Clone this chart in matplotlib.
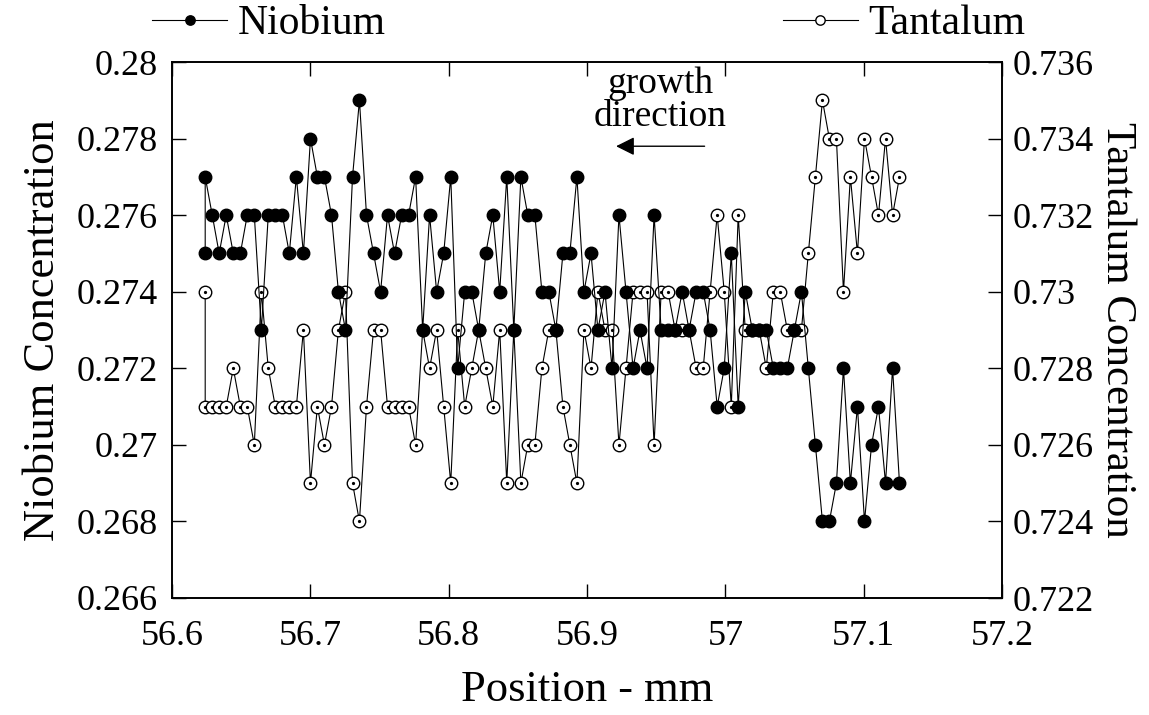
import matplotlib
matplotlib.use("Agg")
import matplotlib.pyplot as plt
from matplotlib.ticker import FuncFormatter, MultipleLocator

# measurement positions along the crystal (mm); the first spot was read twice
position = [
    56.6240, 56.6240, 56.6291, 56.6341, 56.6392, 56.6443, 56.6494, 56.6544, 56.6595, 56.6646, 56.6696,
    56.6747, 56.6798, 56.6848, 56.6899, 56.6950, 56.7001, 56.7051, 56.7102, 56.7153, 56.7203,
    56.7254, 56.7305, 56.7355, 56.7406, 56.7457, 56.7508, 56.7558, 56.7609, 56.7660, 56.7710,
    56.7761, 56.7812, 56.7862, 56.7913, 56.7964, 56.8015, 56.8065, 56.8116, 56.8167, 56.8217,
    56.8268, 56.8319, 56.8369, 56.8420, 56.8471, 56.8522, 56.8572, 56.8623, 56.8674, 56.8724,
    56.8775, 56.8826, 56.8876, 56.8927, 56.8978, 56.9029, 56.9079, 56.9130, 56.9181, 56.9231,
    56.9282, 56.9333, 56.9383, 56.9434, 56.9485, 56.9536, 56.9586, 56.9637, 56.9688, 56.9738,
    56.9789, 56.9840, 56.9890, 56.9941, 56.9992, 57.0043, 57.0093, 57.0144, 57.0195, 57.0245,
    57.0296, 57.0347, 57.0397, 57.0448, 57.0499, 57.0550, 57.0600, 57.0651, 57.0702, 57.0752,
    57.0803, 57.0854, 57.0904, 57.0955, 57.1006, 57.1057, 57.1107, 57.1158, 57.1209, 57.1259,
]

niobium = [
    0.275, 0.277,
    0.276, 0.275, 0.276, 0.275, 0.275, 0.276, 0.276, 0.273, 0.276, 0.276,
    0.276, 0.275, 0.277, 0.275, 0.278, 0.277, 0.277, 0.276, 0.274, 0.273,
    0.277, 0.279, 0.276, 0.275, 0.274, 0.276, 0.275, 0.276, 0.276, 0.277,
    0.273, 0.276, 0.274, 0.275, 0.277, 0.272, 0.274, 0.274, 0.273, 0.275,
    0.276, 0.274, 0.277, 0.273, 0.277, 0.276, 0.276, 0.274, 0.274, 0.273,
    0.275, 0.275, 0.277, 0.274, 0.275, 0.273, 0.274, 0.272, 0.276, 0.274,
    0.272, 0.273, 0.272, 0.276, 0.273, 0.273, 0.273, 0.274, 0.273, 0.274,
    0.274, 0.273, 0.271, 0.272, 0.275, 0.271, 0.274, 0.273, 0.273, 0.273,
    0.272, 0.272, 0.272, 0.273, 0.274, 0.272, 0.270, 0.268, 0.268, 0.269,
    0.272, 0.269, 0.271, 0.268, 0.270, 0.271, 0.269, 0.272, 0.269,
]

tantalum = [
    0.730, 0.727,
    0.727, 0.727, 0.727, 0.728, 0.727, 0.727, 0.726, 0.730, 0.728, 0.727,
    0.727, 0.727, 0.727, 0.729, 0.725, 0.727, 0.726, 0.727, 0.729, 0.730,
    0.725, 0.724, 0.727, 0.729, 0.729, 0.727, 0.727, 0.727, 0.727, 0.726,
    0.729, 0.728, 0.729, 0.727, 0.725, 0.729, 0.727, 0.728, 0.729, 0.728,
    0.727, 0.729, 0.725, 0.729, 0.725, 0.726, 0.726, 0.728, 0.729, 0.729,
    0.727, 0.726, 0.725, 0.729, 0.728, 0.730, 0.729, 0.729, 0.726, 0.728,
    0.730, 0.730, 0.730, 0.726, 0.730, 0.730, 0.729, 0.729, 0.729, 0.728,
    0.728, 0.730, 0.732, 0.730, 0.727, 0.732, 0.729, 0.729, 0.729, 0.728,
    0.730, 0.730, 0.729, 0.729, 0.729, 0.731, 0.733, 0.735, 0.734, 0.734,
    0.730, 0.733, 0.731, 0.734, 0.733, 0.732, 0.734, 0.732, 0.733,
]

plt.rcParams['font.family'] = ['Liberation Serif', 'DejaVu Serif']

fig = plt.figure(figsize=(11.49, 7.15), dpi=100)
# plot box: x 172..1002 px, y 62..598 px
ax = fig.add_axes([172 / 1149, 1 - 598 / 715, 830 / 1149, 536 / 715])
ax2 = ax.twinx()
# niobium markers sit on top of the tantalum ones
ax.set_zorder(ax2.get_zorder() + 1)
ax.patch.set_visible(False)

ta_line, = ax2.plot(position, tantalum, '-o', color='black', lw=0.8, ms=9,
                    mfc='white', mec='black', mew=1.0, label='Tantalum')
ax2.plot(position, tantalum, ls='none', marker='o', ms=1.3, color='black')
nb_line, = ax.plot(position, niobium, '-o', color='black', lw=0.8, ms=9,
                   mec='black', label='Niobium')

ax.set_xlim(56.6, 57.2)
ax.set_ylim(0.266, 0.280)
ax2.set_ylim(0.722, 0.736)
ax.xaxis.set_major_locator(MultipleLocator(0.1))
ax.yaxis.set_major_locator(MultipleLocator(0.002))
ax2.yaxis.set_major_locator(MultipleLocator(0.002))
fmt = FuncFormatter(lambda v, p: '%g' % round(v, 4))
ax.xaxis.set_major_formatter(fmt)
ax.yaxis.set_major_formatter(fmt)
ax2.yaxis.set_major_formatter(fmt)

ax.tick_params(axis='x', direction='in', length=10, width=1, top=True,
               labelsize=26, pad=16)
ax.tick_params(axis='y', direction='in', length=10, width=1, labelsize=26, pad=10)
ax2.tick_params(axis='y', direction='in', length=10, width=1, labelsize=26, pad=8)
for a in (ax, ax2):
    for s in a.spines.values():
        s.set_linewidth(1.2)

ax.set_xlabel('Position - mm', fontsize=32, labelpad=12)
ax.set_ylabel('Niobium Concentration', fontsize=32, labelpad=10)
ax2.set_ylabel('Tantalum Concentration', fontsize=31, rotation=270, labelpad=30)

ax.annotate('', xy=(56.921, 0.2778), xytext=(56.985, 0.2778),
            arrowprops=dict(arrowstyle='-|>', color='black', lw=1.0,
                            mutation_scale=28, shrinkA=0, shrinkB=0))
ax.text(56.953, 0.2790, 'growth\ndirection', ha='center', va='center',
        fontsize=27, linespacing=0.92)

leg_kw = dict(frameon=False, fontsize=30, handlelength=1.8, handletextpad=0.25,
              borderpad=0, borderaxespad=0, markerscale=0.75, numpoints=1)
fig.legend(handles=[nb_line], loc='center left',
           bbox_to_anchor=(152 / 1149, 1 - 24 / 715), **leg_kw)
fig.legend(handles=[ta_line], loc='center right',
           bbox_to_anchor=(1025 / 1149, 1 - 24 / 715), **leg_kw)

fig.savefig('out.png', dpi=100)
